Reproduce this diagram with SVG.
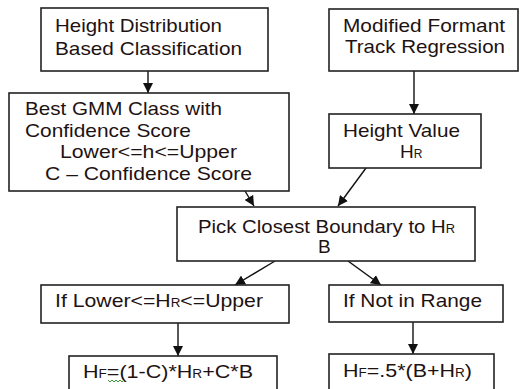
<svg xmlns="http://www.w3.org/2000/svg" width="520" height="389" viewBox="0 0 520 389">
<style>
.box{fill:#fff;stroke:#222;stroke-width:1.6}
.t{font-family:"Liberation Sans",Arial,sans-serif;font-size:19px;fill:#1e1212}
.s{font-size:12px}
.c{stroke:#111;stroke-width:1.4;fill:none;marker-end:url(#ah)}
</style>
<defs>
<marker id="ah" viewBox="0 0 10 10" refX="10" refY="5" markerWidth="10" markerHeight="10" markerUnits="userSpaceOnUse" orient="auto">
<path d="M0,0 L10,5 L0,10 z" fill="#111"/>
</marker>
</defs>
<rect width="520" height="389" fill="#fff"/>
<g id="connectors">
<line class="c" x1="148" y1="71" x2="148" y2="93"/>
<line class="c" x1="414" y1="71" x2="414" y2="114"/>
<line class="c" x1="366" y1="168" x2="338" y2="206"/>
<line class="c" x1="245" y1="191" x2="254" y2="206"/>
<line class="c" x1="275" y1="261" x2="235" y2="285"/>
<line class="c" x1="348" y1="261" x2="381" y2="285"/>
<line class="c" x1="178" y1="323" x2="178" y2="356"/>
<line class="c" x1="413" y1="322" x2="413" y2="354"/>
</g>
<g id="n1">
<rect class="box" x="41" y="8" width="227" height="63"/>
<text class="t" x="55" y="32" textLength="167" lengthAdjust="spacingAndGlyphs">Height Distribution</text>
<text class="t" x="55" y="55" textLength="187" lengthAdjust="spacingAndGlyphs">Based Classification</text>
</g>
<g id="n2">
<rect class="box" x="9" y="93" width="280" height="98"/>
<text class="t" x="25" y="115" textLength="197" lengthAdjust="spacingAndGlyphs">Best GMM Class with</text>
<text class="t" x="25" y="137" textLength="166" lengthAdjust="spacingAndGlyphs">Confidence Score</text>
<text class="t" x="60" y="158" textLength="177" lengthAdjust="spacingAndGlyphs">Lower&lt;=h&lt;=Upper</text>
<text class="t" x="45" y="180" textLength="207" lengthAdjust="spacingAndGlyphs">C – Confidence Score</text>
</g>
<g id="n3">
<rect class="box" x="329" y="9" width="189" height="62"/>
<text class="t" x="343" y="32" textLength="162" lengthAdjust="spacingAndGlyphs">Modified Formant</text>
<text class="t" x="345" y="53" textLength="160" lengthAdjust="spacingAndGlyphs">Track Regression</text>
</g>
<g id="n4">
<rect class="box" x="329" y="114" width="152" height="54"/>
<text class="t" x="343" y="137" textLength="117" lengthAdjust="spacingAndGlyphs">Height Value</text>
<text class="t" x="400" y="158">H<tspan class="s">R</tspan></text>
</g>
<g id="n5">
<rect class="box" x="177" y="207" width="298" height="54"/>
<text class="t" x="198" y="233" textLength="257" lengthAdjust="spacingAndGlyphs">Pick Closest Boundary to H<tspan class="s">R</tspan></text>
<text class="t" x="318" y="253">B</text>
</g>
<g id="n6">
<rect class="box" x="41" y="285" width="248" height="38"/>
<text class="t" x="55" y="307" textLength="208" lengthAdjust="spacingAndGlyphs">If Lower&lt;=H<tspan class="s">R</tspan>&lt;=Upper</text>
</g>
<g id="n7">
<rect class="box" x="329" y="285" width="174" height="37"/>
<text class="t" x="343" y="307" textLength="139" lengthAdjust="spacingAndGlyphs">If Not in Range</text>
</g>
<g id="n8">
<rect class="box" x="69" y="356" width="208" height="45"/>
<text class="t" x="83" y="378" textLength="170" lengthAdjust="spacingAndGlyphs">H<tspan class="s">F</tspan>=(1-C)*H<tspan class="s">R</tspan>+C*B</text>
<path d="M108,380 l2,2 l2,-2 l2,2 l2,-2 l2,2 l2,-2 l2,2 l2,-2" fill="none" stroke="#3a9a3a" stroke-width="1"/>
</g>
<g id="n9">
<rect class="box" x="329" y="354" width="165" height="47"/>
<text class="t" x="343" y="377" textLength="129" lengthAdjust="spacingAndGlyphs">H<tspan class="s">F</tspan>=.5*(B+H<tspan class="s">R</tspan>)</text>
</g>
</svg>
